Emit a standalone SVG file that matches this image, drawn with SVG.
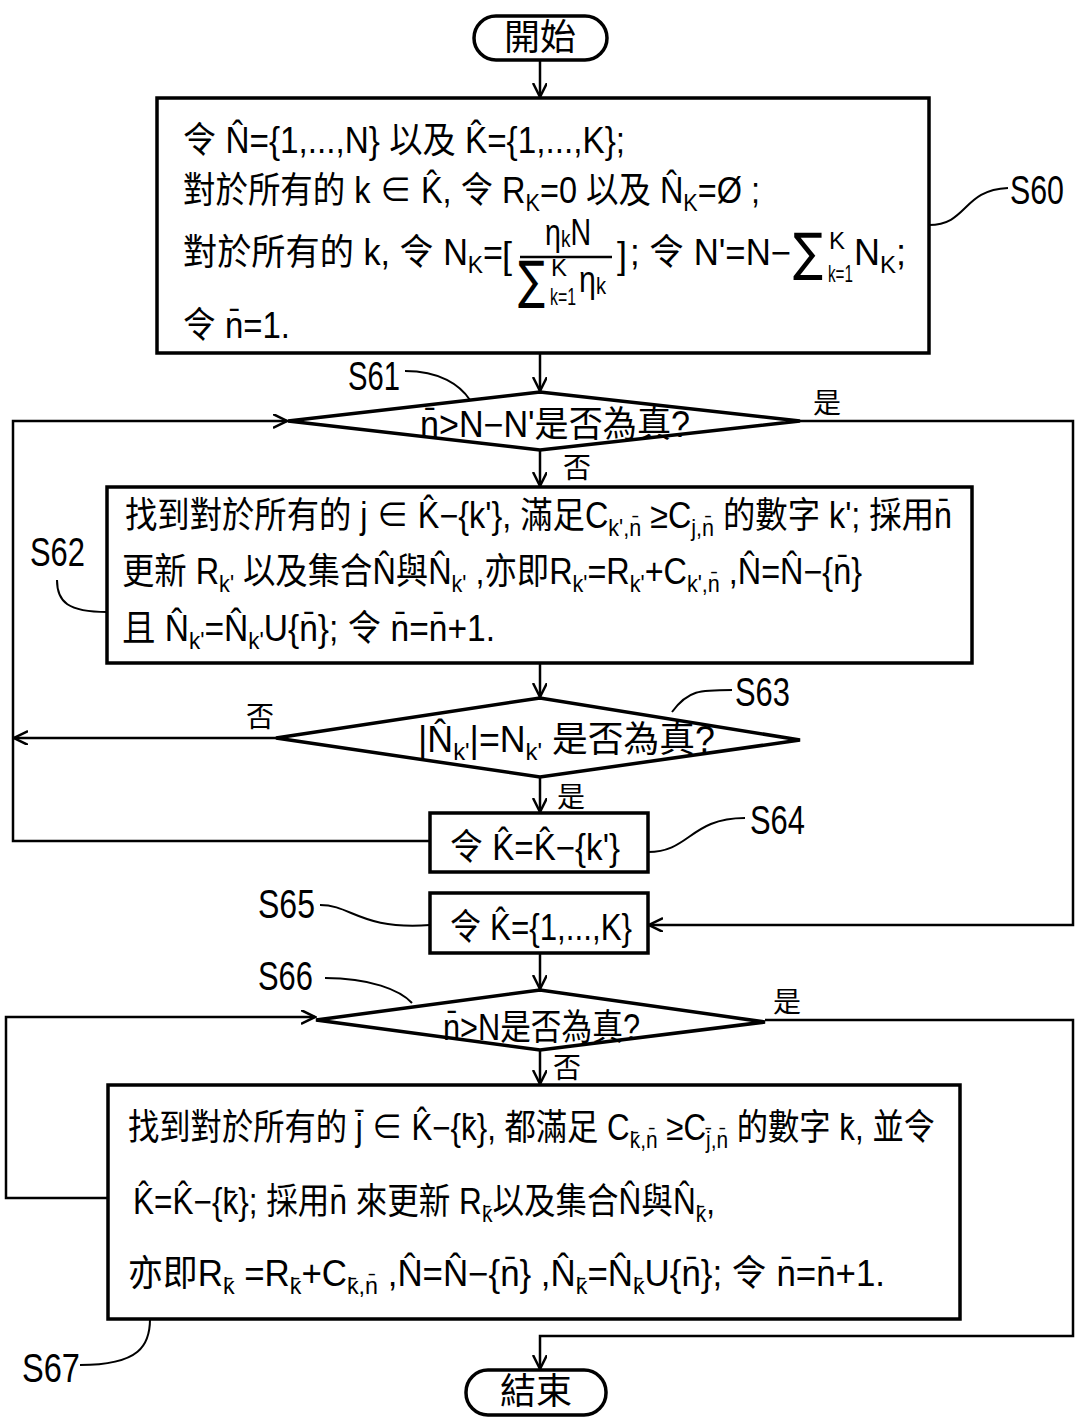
<svg xmlns="http://www.w3.org/2000/svg" width="1077" height="1419" viewBox="0 0 1077 1419">
<defs>
<style>
.t{font-family:'Liberation Sans','Noto Sans CJK TC',sans-serif;font-size:36px;fill:#000}
.s{font-size:24px}
.sg{font-family:'DejaVu Sans',sans-serif;font-size:52px;fill:#000}
.lbl{font-family:'Liberation Sans',sans-serif;font-size:40px;fill:#000}
.yn{font-family:'Noto Sans CJK TC',sans-serif;font-size:28px;fill:#000}
.box{fill:#fff;stroke:#000;stroke-width:3.5}
.ln{fill:none;stroke:#000;stroke-width:2.5}
.ld{fill:none;stroke:#000;stroke-width:2}
</style>
<marker id="ah" markerWidth="16" markerHeight="16" refX="14" refY="7" orient="auto" markerUnits="userSpaceOnUse">
<path d="M0,0 L14,7 L0,14" fill="none" stroke="#000" stroke-width="2.5"/>
</marker>
</defs>
<rect width="1077" height="1419" fill="#fff"/>

<g id="connectors">
<line class="ln" x1="540" y1="60" x2="540" y2="97" marker-end="url(#ah)"/>
<line class="ln" x1="540" y1="353" x2="540" y2="391" marker-end="url(#ah)"/>
<line class="ln" x1="540" y1="450" x2="540" y2="486" marker-end="url(#ah)"/>
<line class="ln" x1="540" y1="663" x2="540" y2="697" marker-end="url(#ah)"/>
<line class="ln" x1="540" y1="777" x2="540" y2="812" marker-end="url(#ah)"/>
<line class="ln" x1="276" y1="738" x2="14" y2="738" marker-end="url(#ah)"/>
<polyline class="ln" points="430,841 13,841 13,421 287,421" marker-end="url(#ah)"/>
<polyline class="ln" points="800,421 1073,421 1073,925 649,925" marker-end="url(#ah)"/>
<line class="ln" x1="540" y1="953" x2="540" y2="989" marker-end="url(#ah)"/>
<line class="ln" x1="540" y1="1050" x2="540" y2="1084" marker-end="url(#ah)"/>
<polyline class="ln" points="108,1198 6,1198 6,1017 315,1017" marker-end="url(#ah)"/>
<polyline class="ln" points="765,1020 1073,1020 1073,1336 540,1336 540,1369" marker-end="url(#ah)"/>
<text class="yn" x="563" y="478">否</text>
<text class="yn" x="813" y="413">是</text>
<text class="yn" x="246" y="727">否</text>
<text class="yn" x="557" y="807">是</text>
<text class="yn" x="553" y="1078">否</text>
<text class="yn" x="773" y="1012">是</text>
</g>

<g id="leaders">
<path class="ld" d="M929,225 C968,225 962,190 1008,188"/>
<path class="ld" d="M405,371 C440,371 460,385 470,400"/>
<path class="ld" d="M57,580 C57,602 68,612 107,612"/>
<path class="ld" d="M672,712 C688,690 700,690 732,690"/>
<path class="ld" d="M648,852 C690,852 690,818 745,818"/>
<path class="ld" d="M320,905 C352,905 360,930 430,925"/>
<path class="ld" d="M325,978 C370,978 400,990 412,1003"/>
<path class="ld" d="M80,1365 C140,1365 150,1345 150,1319"/>
<text class="lbl" x="1010" y="204" textLength="54" lengthAdjust="spacingAndGlyphs">S60</text>
<text class="lbl" x="348" y="390" textLength="52" lengthAdjust="spacingAndGlyphs">S61</text>
<text class="lbl" x="30" y="566" textLength="55" lengthAdjust="spacingAndGlyphs">S62</text>
<text class="lbl" x="735" y="706" textLength="55" lengthAdjust="spacingAndGlyphs">S63</text>
<text class="lbl" x="750" y="834" textLength="55" lengthAdjust="spacingAndGlyphs">S64</text>
<text class="lbl" x="258" y="918" textLength="57" lengthAdjust="spacingAndGlyphs">S65</text>
<text class="lbl" x="258" y="990" textLength="55" lengthAdjust="spacingAndGlyphs">S66</text>
<text class="lbl" x="22" y="1382" textLength="58" lengthAdjust="spacingAndGlyphs">S67</text>
</g>

<g id="start">
<rect class="box" x="474" y="16" width="133" height="44" rx="22"/>
<text class="t" x="540" y="50" text-anchor="middle" font-size="30">開始</text>
</g>

<g id="S60">
<rect class="box" x="157" y="98" width="772" height="255"/>
<text class="t" x="183" y="153" textLength="442" lengthAdjust="spacingAndGlyphs">令 N&#x302;={1,...,N} 以及 K&#x302;={1,...,K};</text>
<text class="t" x="183" y="203" textLength="577" lengthAdjust="spacingAndGlyphs">對於所有的 k ∈ K&#x302;, 令 R<tspan class="s" dy="8">K</tspan><tspan dy="-8">=0 以及 N&#x302;</tspan><tspan class="s" dy="8">K</tspan><tspan dy="-8">=Ø ;</tspan></text>
<text class="t" x="183" y="265" textLength="320" lengthAdjust="spacingAndGlyphs">對於所有的 k, 令 N<tspan class="s" dy="8">K</tspan><tspan dy="-8">=</tspan></text>
<text class="t" x="502" y="268" font-size="44">[</text>
<text class="t" x="545" y="245" textLength="46" lengthAdjust="spacingAndGlyphs">η<tspan class="s" dy="2">k</tspan><tspan dy="-2">N</tspan></text>
<line x1="520" y1="257" x2="612" y2="257" stroke="#000" stroke-width="2.5"/>
<text class="sg" x="518" y="298" textLength="27" lengthAdjust="spacingAndGlyphs">∑</text>
<text class="t s" x="551" y="276">K</text>
<text class="t s" x="550" y="305" textLength="26" lengthAdjust="spacingAndGlyphs">k=1</text>
<text class="t" x="579" y="292" textLength="27" lengthAdjust="spacingAndGlyphs">η<tspan class="s" dy="2">k</tspan></text>
<text class="t" x="617" y="268" font-size="44">]</text>
<text class="t" x="630" y="265" textLength="161" lengthAdjust="spacingAndGlyphs">; 令 N'=N−</text>
<text class="sg" x="793" y="270" textLength="30" lengthAdjust="spacingAndGlyphs">∑</text>
<text class="t s" x="829" y="249">K</text>
<text class="t s" x="828" y="282" textLength="25" lengthAdjust="spacingAndGlyphs">k=1</text>
<text class="t" x="854" y="265" textLength="52" lengthAdjust="spacingAndGlyphs">N<tspan class="s" dy="8">K</tspan><tspan dy="-8">;</tspan></text>
<text class="t" x="183" y="338" textLength="107" lengthAdjust="spacingAndGlyphs">令 n&#x304;=1.</text>
</g>

<g id="S61">
<polygon class="box" points="288,421 540,392 800,421 540,450"/>
<text class="t" x="420" y="437" textLength="270" lengthAdjust="spacingAndGlyphs">n&#x304;&gt;N−N'是否為真?</text>
</g>

<g id="S62">
<rect class="box" x="107" y="487" width="865" height="176"/>
<text class="t" x="125" y="528" textLength="827" lengthAdjust="spacingAndGlyphs">找到對於所有的 j ∈ K&#x302;−{k'}, 滿足C<tspan class="s" dy="8">k',n&#x304;</tspan><tspan dy="-8"> ≥C</tspan><tspan class="s" dy="8">j,n&#x304;</tspan><tspan dy="-8"> 的數字 k'; 採用n&#x304;</tspan></text>
<text class="t" x="122" y="584" textLength="740" lengthAdjust="spacingAndGlyphs">更新 R<tspan class="s" dy="8">k'</tspan><tspan dy="-8"> 以及集合N&#x302;與N&#x302;</tspan><tspan class="s" dy="8">k'</tspan><tspan dy="-8"> ,亦即R</tspan><tspan class="s" dy="8">k'</tspan><tspan dy="-8">=R</tspan><tspan class="s" dy="8">k'</tspan><tspan dy="-8">+C</tspan><tspan class="s" dy="8">k',n&#x304;</tspan><tspan dy="-8"> ,N&#x302;=N&#x302;−{n&#x304;}</tspan></text>
<text class="t" x="122" y="641" textLength="373" lengthAdjust="spacingAndGlyphs">且 N&#x302;<tspan class="s" dy="8">k'</tspan><tspan dy="-8">=N&#x302;</tspan><tspan class="s" dy="8">k'</tspan><tspan dy="-8">U{n&#x304;}; 令 n&#x304;=n&#x304;+1.</tspan></text>
</g>

<g id="S63">
<polygon class="box" points="276,738 540,698 800,740 540,777"/>
<text class="t" x="418" y="752" textLength="297" lengthAdjust="spacingAndGlyphs">|N&#x302;<tspan class="s" dy="8">k'</tspan><tspan dy="-8">|=N</tspan><tspan class="s" dy="8">k'</tspan><tspan dy="-8"> 是否為真?</tspan></text>
</g>

<g id="S64">
<rect class="box" x="430" y="813" width="218" height="59"/>
<text class="t" x="450" y="860" textLength="170" lengthAdjust="spacingAndGlyphs">令 K&#x302;=K&#x302;−{k'}</text>
</g>

<g id="S65">
<rect class="box" x="430" y="893" width="218" height="60"/>
<text class="t" x="450" y="940" textLength="182" lengthAdjust="spacingAndGlyphs">令 K&#x302;={1,...,K}</text>
</g>

<g id="S66">
<polygon class="box" points="316,1020 540,990 765,1022 540,1050"/>
<text class="t" x="443" y="1040" textLength="197" lengthAdjust="spacingAndGlyphs">n&#x304;&gt;N是否為真?</text>
</g>

<g id="S67">
<rect class="box" x="108" y="1085" width="852" height="234"/>
<text class="t" x="128" y="1140" textLength="807" lengthAdjust="spacingAndGlyphs">找到對於所有的 j&#x304; ∈ K&#x302;−{k&#x304;}, 都滿足 C<tspan class="s" dy="8">k&#x304;,n&#x304;</tspan><tspan dy="-8">  ≥C</tspan><tspan class="s" dy="8">j&#x304;,n&#x304;</tspan><tspan dy="-8"> 的數字 k&#x304;, 並令</tspan></text>
<text class="t" x="133" y="1214" textLength="582" lengthAdjust="spacingAndGlyphs">K&#x302;=K&#x302;−{k&#x304;}; 採用n&#x304; 來更新 R<tspan class="s" dy="8">k&#x304;</tspan><tspan dy="-8">以及集合N&#x302;與N&#x302;</tspan><tspan class="s" dy="8">k&#x304;</tspan><tspan dy="-8">,</tspan></text>
<text class="t" x="128" y="1286" textLength="757" lengthAdjust="spacingAndGlyphs">亦即R<tspan class="s" dy="8">k&#x304;</tspan><tspan dy="-8"> =R</tspan><tspan class="s" dy="8">k&#x304;</tspan><tspan dy="-8">+C</tspan><tspan class="s" dy="8">k&#x304;,n&#x304;</tspan><tspan dy="-8">  ,N&#x302;=N&#x302;−{n&#x304;} ,N&#x302;</tspan><tspan class="s" dy="8">k&#x304;</tspan><tspan dy="-8">=N&#x302;</tspan><tspan class="s" dy="8">k&#x304;</tspan><tspan dy="-8">U{n&#x304;}; 令 n&#x304;=n&#x304;+1.</tspan></text>
</g>

<g id="end">
<rect class="box" x="466" y="1370" width="140" height="45" rx="22"/>
<text class="t" x="536" y="1404" text-anchor="middle" font-size="30">結束</text>
</g>
</svg>
